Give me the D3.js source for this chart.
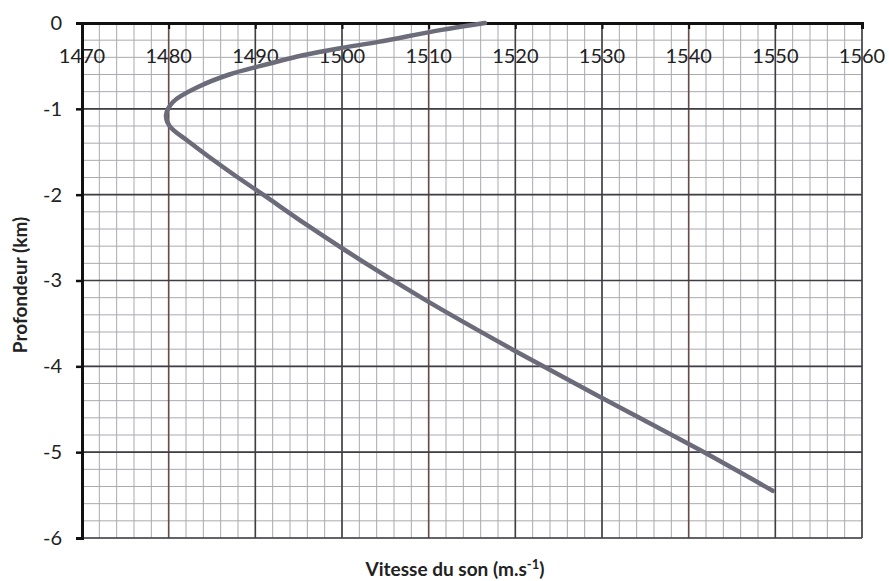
<!DOCTYPE html>
<html>
<head>
<meta charset="utf-8">
<script src="https://cdn.jsdelivr.net/npm/d3@7"></script>
<style>
    body { margin: 0; background: #fff; }
    #chart { width: 889px; height: 581px; }
</style>
</head>
<body>
<div id="chart"></div>
<script>
// values
let depthKm = [0, 0.08, 0.22, 0.29, 0.37, 0.5, 0.6, 0.74, 0.92, 1.07, 1.2, 1.38, 1.73, 2.0, 2.35, 2.63, 2.95, 3.22, 3.5, 3.8, 4.33, 4.62, 4.97, 5.45];
let speed = [1516.5, 1511.5, 1504.2, 1500, 1495.8, 1490.6, 1487, 1483.5, 1480.5, 1479.7, 1480.1, 1482.3, 1487, 1490.9, 1495.9, 1500.1, 1505.1, 1509.5, 1514.3, 1519.6, 1529.3, 1534.7, 1541.2, 1549.7];
let xTicks = [1470, 1480, 1490, 1500, 1510, 1520, 1530, 1540, 1550, 1560];
let yTicks = [0, -1, -2, -3, -4, -5, -6];

function render(div) {
    let w = 889, h = 581;
    let left = 82, right = 862, top = 23, bottom = 538;

    let x = d3.scaleLinear().domain([1470, 1560]).range([left, right]);
    let y = d3.scaleLinear().domain([0, -6]).range([top, bottom]);

    let svg = d3.select("#" + div)
        .append("svg")
        .attr("width", w)
        .attr("height", h)
        .style("font-family", "Lato, 'Open Sans', sans-serif");

    // graph-paper grid: minor every 2 m/s and 0.2 km
    let minorX = d3.range(1470, 1561, 2);
    let minorY = d3.range(0, -6.01, -0.2);

    svg.append("g").selectAll("line")
        .data(minorX)
        .enter()
        .append("line")
        .attr("x1", d => x(d)).attr("x2", d => x(d))
        .attr("y1", top).attr("y2", bottom)
        .attr("stroke", "#a9a9b2")
        .attr("stroke-width", 1);

    svg.append("g").selectAll("line")
        .data(minorY)
        .enter()
        .append("line")
        .attr("x1", left).attr("x2", right)
        .attr("y1", d => y(d)).attr("y2", d => y(d))
        .attr("stroke", "#a9a9b2")
        .attr("stroke-width", 1);

    // major lines
    svg.append("g").selectAll("line")
        .data(xTicks)
        .enter()
        .append("line")
        .attr("x1", d => x(d)).attr("x2", d => x(d))
        .attr("y1", top).attr("y2", bottom)
        .attr("stroke", function (d, i) { return i % 3 == 1 ? "#6a4a48" : "#3e3e44"; })
        .attr("stroke-width", 1.6);

    svg.append("g").selectAll("line")
        .data(yTicks)
        .enter()
        .append("line")
        .attr("x1", left).attr("x2", right)
        .attr("y1", d => y(d)).attr("y2", d => y(d))
        .attr("stroke", "#3e3e44")
        .attr("stroke-width", 1.6);

    // axes
    let xAxis = d3.axisTop(x).tickValues(xTicks).tickSize(-6).tickFormat("");
    svg.append("g")
        .attr("transform", "translate(0," + top + ")")
        .call(xAxis)
        .call(g => g.select(".domain").attr("stroke", "#111").attr("stroke-width", 3))
        .call(g => g.selectAll(".tick line").attr("stroke", "#111").attr("stroke-width", 2));

    let yAxis = d3.axisLeft(y)
        .tickValues(yTicks)
        .tickSize(6)
        .tickPadding(14)
        .tickFormat(d => d == 0 ? "0" : "-" + Math.abs(d));
    svg.append("g")
        .attr("transform", "translate(" + left + ",0)")
        .call(yAxis)
        .call(g => g.select(".domain").attr("stroke", "#111").attr("stroke-width", 3))
        .call(g => g.selectAll(".tick line").attr("stroke", "#111").attr("stroke-width", 2.5))
        .call(g => g.selectAll(".tick text")
            .attr("fill", "#222")
            .style("font-size", "20px")
            .style("font-family", "Lato, 'Open Sans', sans-serif"));

    // x tick labels sit just under the top axis, inside the plot
    svg.append("g").selectAll("text")
        .data(xTicks)
        .enter()
        .append("text")
        .attr("x", d => x(d))
        .attr("y", 63)
        .attr("text-anchor", "middle")
        .text(d => d)
        .style("fill", "#222")
        .style("font-size", "20px");

    // the curve
    let points = speed.map((v, i) => [v, -depthKm[i]]);
    let line = d3.line()
        .x(d => x(d[0]))
        .y(d => y(d[1]))
        .curve(d3.curveCatmullRom.alpha(0.5));

    svg.append("path")
        .datum(points)
        .attr("d", line)
        .attr("fill", "none")
        .attr("stroke", "#6c6b79")
        .attr("stroke-width", 4.5)
        .attr("stroke-linecap", "round")
        .attr("stroke-linejoin", "round");

    // titles
    svg.append("text")
        .attr("transform", "translate(27," + 285 + ") rotate(-90)")
        .attr("text-anchor", "middle")
        .text("Profondeur (km)")
        .style("font-weight", "bold")
        .style("font-size", "19px")
        .style("fill", "#222");

    let xt = svg.append("text")
        .attr("x", 455)
        .attr("y", 576)
        .attr("text-anchor", "middle")
        .style("font-weight", "bold")
        .style("font-size", "19px")
        .style("fill", "#222");
    xt.append("tspan").text("Vitesse du son (m.s");
    xt.append("tspan").attr("dy", -7).style("font-size", "13px").text("-1");
    xt.append("tspan").attr("dy", 7).text(")");
}

render("chart");
</script>
</body>
</html>
